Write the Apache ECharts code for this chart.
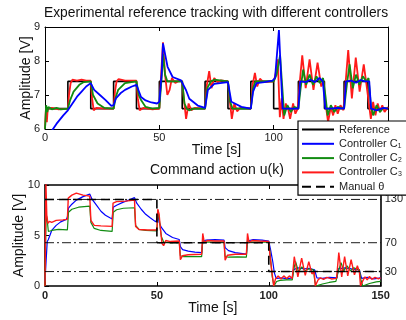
<!DOCTYPE html>
<html>
<head>
<meta charset="utf-8">
<script src="https://cdn.jsdelivr.net/npm/echarts@6/dist/echarts.min.js"></script>
<style>
  html, body { margin: 0; padding: 0; background: #fff; }
  #echarts { width: 406px; height: 320px; }
</style>
</head>
<body>
<div id="echarts"></div>
<script>
// 参考信号 (方波) 和手动 θ
var refTimes = [0, 10, 20, 30, 40, 50, 60, 70, 80, 90, 100, 110.8, 122.2, 130.8, 141.2, 150];
var refLevels = [6.6, 7.4, 6.6, 7.4, 6.6, 7.4, 6.6, 7.4, 6.6, 7.4, 6.6, 7.4, 6.6, 7.4, 6.6, 6.6];
var thetaTimes = [0, 50, 100, 150];
var thetaValues = [130, 70, 30, 30];
var thetaLevels = [130, 70, 30];

// 上图: 输出
var yC1 = [[0,5.8],[3,5.95],[5,6.15],[8,6.4],[10,6.55],[12,6.75],[14,6.95],[16,7.1],[18,7.25],[20,7.35],[21.5,7.15],[24,7.0],[26.5,6.85],[29,6.68],[30,6.7],[31,6.9],[33,7.05],[35,7.15],[38,7.25],[40,7.3],[42,6.94],[44,6.84],[46.5,6.78],[49,6.75],[50,6.8],[51,7.6],[51.6,8.52],[53.6,7.83],[55.8,7.53],[59.5,7.43],[61.7,7.14],[63.1,6.89],[66.8,6.69],[70,6.62],[71.2,7.14],[74,7.33],[80,7.38],[81.5,6.8],[85.9,6.65],[90,6.6],[91,7.1],[92.5,7.35],[96,7.38],[99.5,7.42],[100.6,7.5],[102.3,8.91],[103.2,7.6],[103.9,6.6],[108,6.6],[110.8,6.6],[111.6,7.4],[114,7.38],[116,7.45],[118,7.38],[120,7.5],[121.5,7.4],[122.6,6.6],[125,6.6],[128,6.62],[130.8,6.6],[131.6,7.4],[134,7.42],[136,7.36],[138,7.44],[140,7.4],[141.8,7.4],[142.6,6.6],[145,6.55],[148,6.62],[150,6.6]];
var yC2 = [[0,6.0],[0.5,6.7],[1,6.5],[1.5,6.65],[3,6.58],[5,6.62],[7,6.58],[10,6.6],[11,6.85],[12.5,7.1],[15,7.3],[17,7.38],[20,7.4],[21,7.0],[23,6.75],[26,6.62],[30,6.6],[31,6.95],[32,7.15],[35,7.35],[40,7.4],[41,7.0],[42,6.85],[44,6.65],[47,6.6],[50,6.62],[51,7.5],[51.6,8.2],[52.5,7.6],[53.5,7.4],[60,7.4],[61,6.75],[62,6.6],[63,6.55],[65,6.6],[70,6.6],[71,7.2],[72.5,7.4],[74,7.45],[80,7.4],[81,6.8],[82,6.6],[90,6.6],[91,7.2],[92,7.4],[100,7.4],[101.3,7.6],[102.8,8.17],[103.8,7.2],[104.6,6.4],[106,6.7],[107.5,6.5],[109,6.65],[110.8,6.6],[111.8,7.2],[112.9,7.75],[114.2,7.3],[115.7,7.6],[117.2,7.3],[118.7,7.55],[120.2,7.35],[121.6,7.5],[122.6,7.0],[123.6,6.4],[125,6.7],[126.5,6.5],[128,6.65],[130.8,6.6],[132,7.3],[133.2,7.9],[134.6,7.2],[136,7.6],[137.5,7.3],[139,7.55],[140.5,7.4],[141.5,7.5],[142.5,6.7],[143.5,6.4],[145,6.7],[146.5,6.5],[148,6.62],[150,6.6]];
var yC3 = [[0,6.0],[0.4,6.6],[0.8,6.2],[1.2,6.6],[3,6.62],[6,6.58],[10,6.6],[10.5,7.0],[11.2,7.35],[12,7.45],[14,7.42],[16,7.45],[18,7.42],[20,7.42],[20.6,6.9],[21.3,6.55],[22.5,6.62],[26,6.6],[30,6.6],[30.6,7.1],[31.3,7.4],[32.2,7.47],[35,7.42],[40,7.42],[40.6,6.9],[41.4,6.55],[43,6.62],[47,6.58],[50,6.6],[50.7,7.5],[51.6,8.55],[52.5,7.6],[53.5,7.0],[54.5,7.15],[55.5,7.5],[57,7.35],[58.5,7.42],[60,7.4],[60.7,6.9],[61.7,6.3],[62.8,6.75],[64,6.55],[65.5,6.62],[70,6.6],[70.8,7.3],[71.8,7.7],[72.8,7.2],[74,7.5],[75.5,7.38],[77,7.43],[80,7.4],[80.7,6.9],[81.7,6.3],[82.8,6.75],[84,6.52],[85.5,6.63],[90,6.6],[90.8,7.3],[91.8,7.65],[92.8,7.25],[94,7.48],[95.5,7.38],[100,7.4],[100.8,7.6],[101.8,8.05],[102.7,6.35],[103.5,6.9],[104.3,6.3],[105.3,6.75],[106.3,6.6],[107.2,6.3],[108.5,6.75],[109.5,6.45],[110.5,6.6],[111.3,7.3],[112.5,8.17],[114,7.2],[115.7,8.05],[117.4,7.15],[119.2,7.95],[120.8,7.25],[121.8,7.4],[122.6,6.8],[123.8,6.2],[125,6.65],[126,6.4],[127,6.7],[128,6.45],[129.2,6.7],[130.5,6.55],[131.5,7.4],[132.6,8.32],[134.2,6.9],[135.9,8.1],[137.6,7.1],[139.4,7.9],[140.6,7.3],[141.2,7.3],[142.5,6.3],[143.5,6.8],[144.5,6.4],[145.5,6.75],[146.5,6.5],[147.5,6.7],[148.5,6.5],[150,6.65]];

// 下图: 控制量 u(k)
var uC1 = [[0,0.5],[0.5,2.5],[1,4.4],[1.5,4.6],[2,4.9],[3,5.5],[5,6.0],[7,6.35],[9.5,6.6],[10,6.8],[10.5,7.7],[12,8.1],[14,8.5],[17,8.85],[20,9.1],[21,8.6],[23,8.0],[25,7.4],[27,7.0],[29,6.75],[30,6.65],[30.5,7.8],[32,8.0],[35,8.3],[38,8.55],[40,8.75],[41,8.2],[43,7.6],[45,7.1],[47,6.75],[49.5,6.35],[50,6.6],[50.5,7.2],[51,6.3],[52,5.8],[54,5.2],[57,4.8],[60,4.6],[60.5,3.9],[61.5,3.6],[64,3.45],[67,3.35],[70,3.3],[70.5,4.4],[72,4.55],[76,4.6],[80,4.55],[80.5,3.8],[82,3.5],[85,3.3],[90,3.15],[90.5,4.45],[93,4.6],[97,4.55],[100,4.45],[100.8,3.6],[101.8,2.4],[102.5,1.3],[103.3,0.75],[106,0.8],[108,0.7],[110.5,0.8],[111,1.6],[113,1.8],[116,1.7],[118,1.75],[120.5,1.6],[121.5,0.8],[124,0.75],[127,0.85],[130.5,0.8],[131,1.7],[134,1.8],[137,1.7],[140.5,1.6],[141.5,0.75],[144,0.85],[147,0.7],[150,0.8]];
var uC2 = [[0,0],[0.5,7.2],[1,6.5],[1.5,5.4],[3,5.5],[6,5.6],[10,5.55],[10.5,7.3],[12,7.6],[15,7.8],[20,7.9],[20.5,6.3],[22,5.7],[25,5.5],[30,5.4],[30.5,7.3],[32,7.55],[35,7.7],[40,7.75],[40.5,6.0],[42,5.6],[45,5.5],[50,5.45],[50.5,7.5],[51.3,6.2],[52,4.9],[53,4.35],[56,4.3],[60,4.3],[60.5,3.0],[62,2.9],[66,2.9],[70,2.9],[70.5,4.5],[72,4.35],[76,4.35],[80,4.35],[80.5,2.95],[82,2.85],[86,2.88],[90,2.85],[90.5,4.5],[92,4.35],[96,4.35],[100,4.35],[100.6,3.2],[101.5,1.0],[102.3,0.0],[103.5,0.45],[105,0.55],[108,0.6],[110.5,0.6],[111.5,2.0],[112,2.4],[113.3,1.4],[114.8,1.9],[116.3,1.5],[118,1.7],[120,1.6],[120.5,0.6],[121,0.0],[124,0.2],[127,0.35],[130,0.45],[131,1.4],[132.3,2.3],[133.5,1.5],[135,2.0],[136.5,1.5],[138,1.8],[140.5,1.6],[141.2,0.6],[142,0.0],[145,0.25],[148,0.4],[150,0.45]];
var uC3 = [[0,0],[0.4,10.2],[0.8,7.0],[1.3,6.2],[2,6.4],[3,6.3],[5,6.5],[8,6.55],[10,6.6],[10.4,8.7],[12,9.0],[14,9.2],[17,9.0],[20,8.9],[20.5,6.5],[22,6.0],[25,5.95],[30,5.9],[30.4,8.2],[32,8.35],[36,8.4],[40,8.5],[40.5,5.9],[42,5.6],[46,5.55],[50,5.55],[50.4,7.6],[51,7.1],[51.6,5.6],[52.3,4.2],[53,4.0],[54,4.5],[56,4.4],[60,4.45],[60.5,2.6],[61.5,3.0],[64,3.1],[70,3.15],[70.5,5.2],[71.2,4.3],[72.5,4.5],[76,4.45],[80,4.45],[80.5,2.55],[81.5,3.05],[85,3.15],[90,3.15],[90.5,5.2],[91.2,4.3],[92.5,4.5],[96,4.45],[100,4.4],[100.6,2.9],[101.4,1.4],[102.2,0],[103,0.7],[104.2,1.0],[105.5,0.7],[106.7,1.0],[108,0.75],[109.3,1.0],[110.5,0.75],[111.4,2.9],[113,0.9],[114.7,2.75],[116.3,1.05],[117.9,2.4],[119.3,1.2],[120.3,1.4],[120.8,0],[122,0.6],[123,0.8],[124.5,0.65],[126,0.85],[128,0.7],[130.3,0.75],[131.3,3.3],[132.6,0.9],[133.9,2.9],[135.3,1.0],[136.8,2.6],[138.3,1.1],[139.6,2.0],[140.5,1.4],[141,0],[142,0.5],[143,0.9],[144,0.6],[145,0.95],[146,0.65],[147.5,0.85],[149,0.7],[150,0.8]];

var FONT = 'Liberation Sans';
var BLUE = '#0000ff', GREEN = '#118c11', RED = '#ff1a1a';

function pairs(ts, vs) {
    return ts.map(function (t, i) { return [t, vs[i]]; });
}

function line(name, data, color, width, xi, yi, extra) {
    var s = {
        name: name, type: 'line', data: data,
        xAxisIndex: xi, yAxisIndex: yi,
        symbol: 'none', animation: false, silent: true,
        lineStyle: { color: color, width: width },
        itemStyle: { color: color }
    };
    for (var k in extra) s[k] = extra[k];
    return s;
}

function frameAxis(grid, pos, min, max, interval, w) {
    return {
        type: 'value', gridIndex: grid, position: pos, min: min, max: max, interval: interval,
        axisLine: { show: true, onZero: false, lineStyle: { color: '#000', width: w } },
        axisTick: { show: true, inside: true, length: 4, lineStyle: { color: '#000' } },
        axisLabel: { show: false }, splitLine: { show: false }
    };
}

var labelStyle = { color: '#222', fontSize: 11, fontFamily: FONT };
var nameStyle = { color: '#111', fontSize: 14, fontFamily: FONT };

var series = [
    line('Reference', pairs(refTimes, refLevels), '#000', 1.6, 0, 0, { step: 'end' }),
    line('Controller C₃', yC3, RED, 1.8, 0, 0),
    line('Controller C₂', yC2, GREEN, 1.8, 0, 0),
    line('Controller C₁', yC1, BLUE, 1.8, 0, 0),
    line('Controller C₁', uC1, BLUE, 1.2, 2, 2),
    line('Controller C₂', uC2, GREEN, 1.2, 2, 2),
    line('Controller C₃', uC3, RED, 1.4, 2, 2)
];
thetaLevels.forEach(function (lv) {
    series.push(line('level' + lv, [[0, lv], [150, lv]], '#000', 1, 2, 3,
        { lineStyle: { color: '#000', width: 0.9, type: [9, 3, 2, 3] } }));
});
series.push(line('Manual θ', pairs(thetaTimes, thetaValues), '#000', 1.6, 2, 3,
    { step: 'end', lineStyle: { color: '#000', width: 1.6, type: [9, 5] } }));

var myChart = echarts.init(document.getElementById('echarts'));
var option = {
    backgroundColor: '#fff',
    title: [
        { text: 'Experimental reference tracking with different controllers', left: 44, top: 6, padding: 0,
          textStyle: { fontSize: 13.8, fontWeight: 'normal', color: '#111', fontFamily: FONT } },
        { text: 'Command action u(k)', left: 150, top: 163, padding: 0,
          textStyle: { fontSize: 14, fontWeight: 'normal', color: '#111', fontFamily: FONT } }
    ],
    legend: {
        data: ['Reference', 'Controller C₁', 'Controller C₂', 'Controller C₃', 'Manual θ'],
        orient: 'vertical', left: 298, top: 121,
        padding: [3, 30, 3, 3], itemGap: 3.3, itemWidth: 32, itemHeight: 10,
        backgroundColor: '#fff', borderColor: '#000', borderWidth: 1.2,
        itemStyle: { opacity: 0 },
        textStyle: { fontSize: 11, color: '#222', fontFamily: FONT },
        selectedMode: false, z: 20
    },
    grid: [
        { left: 45, right: 18, top: 27, height: 102 },
        { left: 45, right: 18, top: 185, height: 101 }
    ],
    xAxis: [
        { type: 'value', gridIndex: 0, min: 0, max: 150, interval: 50,
          name: 'Time [s]', nameLocation: 'middle', nameGap: 14, nameMoveOverlap: false, nameTextStyle: nameStyle,
          axisLine: { onZero: false, lineStyle: { color: '#000', width: 1 } },
          axisTick: { inside: true, length: 4, lineStyle: { color: '#000' } },
          axisLabel: Object.assign({ margin: 3, showMaxLabel: false }, labelStyle), splitLine: { show: false } },
        frameAxis(0, 'top', 0, 150, 50, 1),
        { type: 'value', gridIndex: 1, min: 0, max: 150, interval: 50,
          name: 'Time [s]', nameLocation: 'middle', nameGap: 15, nameMoveOverlap: false, nameTextStyle: nameStyle,
          axisLine: { onZero: false, lineStyle: { color: '#000', width: 1.6 } },
          axisTick: { inside: true, length: 4, lineStyle: { color: '#000' } },
          axisLabel: Object.assign({ margin: 4, fontWeight: 'bold' }, labelStyle), splitLine: { show: false } },
        frameAxis(1, 'top', 0, 150, 50, 1.6)
    ],
    yAxis: [
        { type: 'value', gridIndex: 0, min: 6, max: 9, interval: 1,
          name: 'Amplitude [V]', nameLocation: 'middle', nameGap: 12, nameMoveOverlap: false, nameTextStyle: nameStyle,
          axisLine: { show: true, onZero: false, lineStyle: { color: '#000', width: 1 } },
          axisTick: { show: true, inside: true, length: 4, lineStyle: { color: '#000' } },
          axisLabel: Object.assign({ margin: 5 }, labelStyle), splitLine: { show: false } },
        frameAxis(0, 'right', 6, 9, 1, 1),
        { type: 'value', gridIndex: 1, min: 0, max: 10, interval: 5,
          name: 'Amplitude [V]', nameLocation: 'middle', nameGap: 19, nameMoveOverlap: false, nameTextStyle: nameStyle,
          axisLine: { show: true, onZero: false, lineStyle: { color: '#000', width: 1.6 } },
          axisTick: { show: true, inside: true, length: 4, lineStyle: { color: '#000' } },
          axisLabel: Object.assign({ margin: 5 }, labelStyle), splitLine: { show: false } },
        { type: 'value', gridIndex: 1, position: 'right', min: 10, max: 150, interval: 10,
          axisLine: { show: true, onZero: false, lineStyle: { color: '#000', width: 1.6 } },
          axisTick: { show: false },
          axisLabel: Object.assign({ margin: 4, formatter: function (v) {
              return thetaLevels.indexOf(v) >= 0 ? String(v) : '';
          } }, labelStyle),
          splitLine: { show: false } }
    ],
    series: series
};
myChart.setOption(option);
</script>
</body>
</html>
